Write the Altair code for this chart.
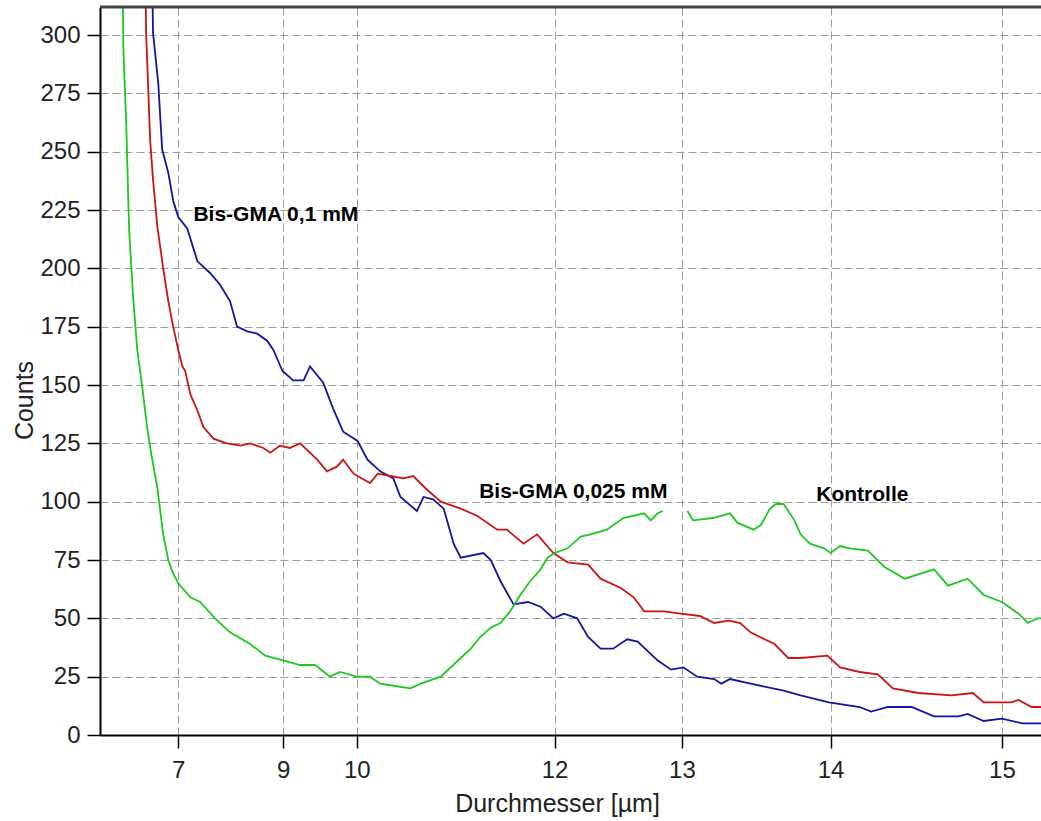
import altair as alt
import pandas as pd

# Particle size distributions (Coulter counter), diameter in µm vs. counts
bis01_d = [6.27, 6.30, 6.46, 6.57, 6.74, 6.87, 7.00, 7.22, 7.45, 7.72,
           7.92, 8.11, 8.24, 8.42, 8.59, 8.75, 8.85, 8.99, 9.15, 9.30,
           9.39, 9.57, 9.70, 9.83, 10.01, 10.13, 10.28, 10.43, 10.51, 10.69,
           10.76, 10.86, 10.97, 11.07, 11.14, 11.36, 11.43, 11.52, 11.64, 11.77,
           11.88, 11.99, 12.08, 12.19, 12.28, 12.38, 12.48, 12.59, 12.67, 12.82,
           12.92, 13.01, 13.11, 13.23, 13.28, 13.34, 13.48, 13.70, 13.81, 13.99,
           14.18, 14.25, 14.35, 14.49, 14.62, 14.76, 14.81, 14.90, 15.00, 15.11,
           15.21]
bis01_counts = [330, 301, 279, 251, 241, 229, 222, 217, 203, 198,
                193, 186, 175, 173, 172, 169, 165, 156, 152, 152,
                158, 151, 140, 130, 126, 118, 113, 110, 102, 96,
                102, 101, 97, 82, 76, 78, 75, 66, 56, 57,
                55, 50, 52, 50, 42, 37, 37, 41, 40, 32,
                28, 29, 25, 24, 22, 24, 22, 19, 17, 14,
                12, 10, 12, 12, 8, 8, 9, 6, 7, 5,
                5]

bis0025_d = [6.05, 6.08, 6.12, 6.21, 6.30, 6.43, 6.60, 6.74, 6.87, 7.00,
             7.10, 7.17, 7.29, 7.45, 7.58, 7.79, 8.05, 8.30, 8.47, 8.69,
             8.80, 8.95, 9.10, 9.25, 9.49, 9.62, 9.75, 9.83, 9.96, 10.16,
             10.25, 10.40, 10.54, 10.65, 10.80, 10.94, 11.14, 11.30, 11.49, 11.58,
             11.73, 11.85, 11.99, 12.11, 12.28, 12.38, 12.54, 12.64, 12.72, 12.87,
             12.99, 13.13, 13.23, 13.33, 13.41, 13.48, 13.64, 13.73, 13.81, 13.98,
             14.06, 14.18, 14.29, 14.38, 14.53, 14.72, 14.84, 14.90, 15.05, 15.09,
             15.16, 15.21]
bis0025_counts = [330, 300, 287, 255, 238, 218, 200, 186, 175, 165,
                  158, 156, 146, 139, 132, 127, 125, 124, 125, 123,
                  121, 124, 123, 125, 118, 113, 115, 118, 112, 108,
                  112, 111, 110, 111, 105, 100, 97, 94, 88, 88,
                  82, 86, 78, 74, 73, 67, 63, 59, 53, 53,
                  52, 51, 48, 49, 48, 44, 39, 33, 33, 34,
                  29, 27, 26, 20, 18, 17, 18, 14, 14, 15,
                  12, 12]

# Control run has a short dropout around 13 µm, so it is kept in two pieces
kontrolle_a_d = [5.17, 5.20, 5.33, 5.45, 5.61, 5.77, 5.95, 6.11, 6.25, 6.43,
                 6.60, 6.74, 6.85, 7.00, 7.29, 7.51, 7.82, 8.11, 8.47, 8.72,
                 9.00, 9.25, 9.46, 9.66, 9.79, 10.00, 10.16, 10.28, 10.45, 10.62,
                 10.73, 10.94, 11.04, 11.14, 11.24, 11.33, 11.43, 11.52, 11.61, 11.70,
                 11.79, 11.88, 11.94, 12.00, 12.11, 12.22, 12.30, 12.43, 12.56, 12.72,
                 12.77, 12.82, 12.86]
kontrolle_a_counts = [330, 295, 262, 217, 188, 165, 149, 132, 120, 106,
                      86, 75, 70, 65, 59, 57, 50, 44, 39, 34,
                      32, 30, 30, 25, 27, 25, 25, 22, 21, 20,
                      22, 25, 29, 33, 37, 42, 46, 48, 53, 60,
                      66, 71, 76, 78, 80, 85, 86, 88, 93, 95,
                      92, 95, 96]
kontrolle_b_d = [13.04, 13.08, 13.22, 13.34, 13.39, 13.50, 13.55, 13.61, 13.65, 13.70,
                 13.77, 13.81, 13.87, 13.96, 14.00, 14.06, 14.12, 14.23, 14.33, 14.45,
                 14.62, 14.70, 14.81, 14.90, 15.00, 15.09, 15.14, 15.19, 15.21]
kontrolle_b_counts = [96, 92, 93, 95, 91, 88, 90, 97, 99, 99,
                      92, 86, 82, 80, 78, 81, 80, 79, 72, 67,
                      71, 64, 67, 60, 57, 52, 48, 50, 50]

series_names = ["Bis-GMA 0,1 mM", "Bis-GMA 0,025 mM", "Kontrolle"]
series_colors = ["#1414a0", "#cc1414", "#1ec81e"]

label_text = ["Bis-GMA 0,1 mM", "Bis-GMA 0,025 mM", "Kontrolle"]
label_d = [7.36, 11.32, 13.91]
label_counts = [223, 104, 103]

x_ticks = [7, 9, 10, 12, 13, 14, 15]
y_ticks = list(range(0, 301, 25))


def piece(name, seg, d, c):
    return pd.DataFrame({"serie": name, "seg": seg, "d": d, "counts": c})


curves = pd.concat([
    piece(series_names[0], "b1", bis01_d, bis01_counts),
    piece(series_names[1], "r1", bis0025_d, bis0025_counts),
    piece(series_names[2], "g1", kontrolle_a_d, kontrolle_a_counts),
    piece(series_names[2], "g2", kontrolle_b_d, kontrolle_b_counts),
], ignore_index=True)

labels = pd.DataFrame({"text": label_text, "d": label_d, "counts": label_counts})

W, H = 941, 728
FONT = "Liberation Sans"

# Coulter channels are linear in particle volume, hence the cubic x scale
x_scale = alt.Scale(type="pow", exponent=3, domain=[3.8, 15.21], nice=False, zero=False)
y_scale = alt.Scale(domain=[0, 312], nice=False, zero=False)

x_axis = alt.Axis(
    values=x_ticks, format="d", grid=True, gridColor="#9c9c9c", gridDash=[8, 4],
    gridWidth=1, tickSize=13, tickColor="#000", tickWidth=1.5,
    domainColor="#000", domainWidth=2, labelFont=FONT, labelFontSize=24,
    labelColor="#222", labelPadding=10, labelFlush=False,
    title="Durchmesser [µm]", titleFont=FONT, titleFontSize=25,
    titleFontWeight="normal", titleColor="#222",
    titleX=457, titleY=68, titleAlign="center", titleBaseline="middle",
)
y_axis = alt.Axis(
    values=y_ticks, grid=True, gridColor="#9c9c9c", gridDash=[8, 4],
    gridWidth=1, tickSize=13, tickColor="#000", tickWidth=1.5,
    domainColor="#000", domainWidth=2, labelFont=FONT, labelFontSize=24,
    labelColor="#222", labelPadding=7,
    title="Counts", titleFont=FONT, titleFontSize=25,
    titleFontWeight="normal", titleColor="#222",
    titleX=-76, titleY=393, titleAlign="center", titleBaseline="middle",
    titleAngle=270,
)

lines = alt.Chart(curves).mark_line(strokeWidth=1.8, clip=True).encode(
    x=alt.X("d:Q", scale=x_scale, axis=x_axis),
    y=alt.Y("counts:Q", scale=y_scale, axis=y_axis),
    color=alt.Color("serie:N", scale=alt.Scale(domain=series_names, range=series_colors), legend=None),
    detail="seg:N",
)

text = alt.Chart(labels).mark_text(
    align="left", baseline="middle", font=FONT, fontSize=21,
    fontWeight="bold", color="#000",
).encode(x=alt.X("d:Q", scale=x_scale), y=alt.Y("counts:Q", scale=y_scale), text="text:N")

# dark frame line along the top of the plot area
frame = alt.Chart(pd.DataFrame({"edge": [0]})).mark_rule(color="#444", strokeWidth=3).encode(
    x=alt.value(0), x2=alt.value(W), y=alt.value(0)
)

chart = alt.layer(lines, text, frame).properties(
    width=W, height=H,
    padding={"left": 100, "top": 7, "right": 0, "bottom": 86},
    autosize=alt.AutoSizeParams(type="none"),
    background="#ffffff",
).configure_view(strokeWidth=0)

chart.save("out.html", embed_options={"renderer": "svg", "actions": False})
